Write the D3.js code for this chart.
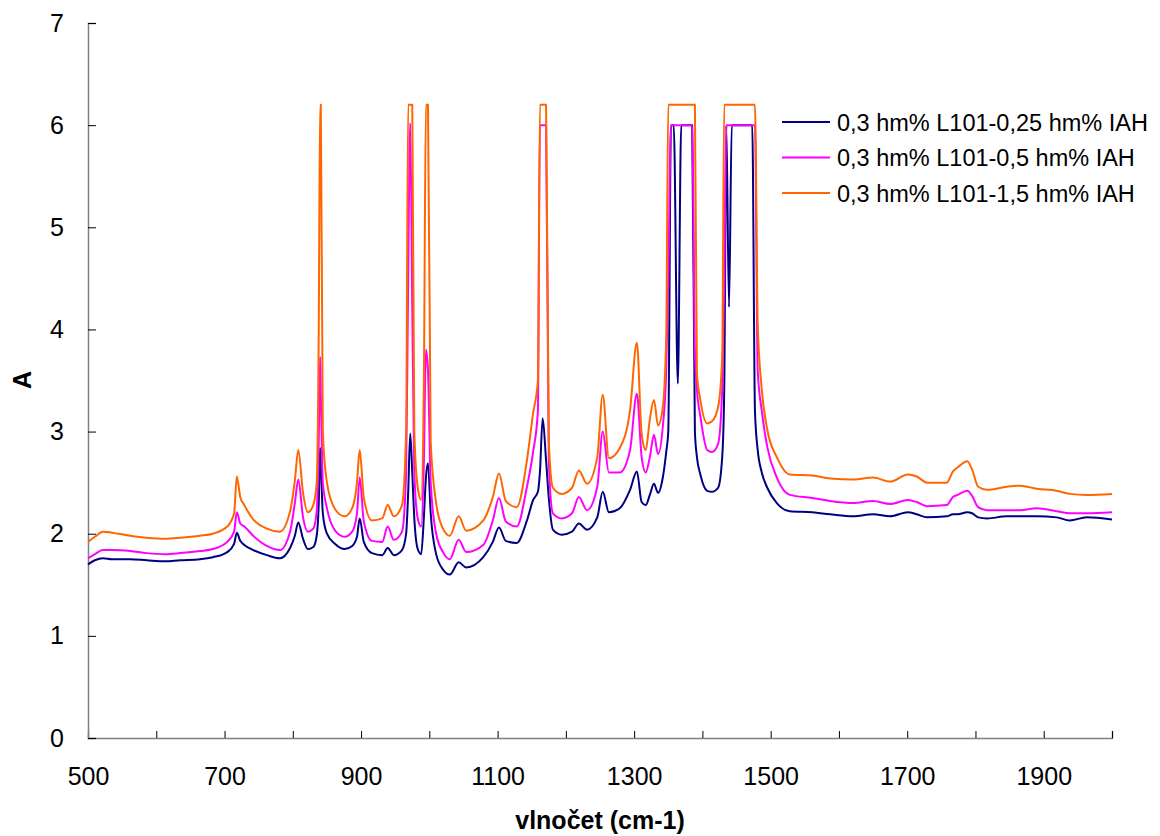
<!DOCTYPE html>
<html>
<head>
<meta charset="utf-8">
<script src="https://cdn.jsdelivr.net/npm/d3@7"></script>
<style>
  body { margin: 0; background: #fff; }
  svg { font-family: Arial, "Liberation Sans", sans-serif; }
</style>
</head>
<body>
<div id="chart"></div>
<script>
// wavenumber grid (cm-1), shared by the three spectra
var wavenumbers = [500, 510, 522, 535, 562, 586, 613, 635, 664, 683, 704, 714, 718, 723, 729, 742, 762, 781,
  796, 803, 808, 815, 822, 830, 835, 838, 840, 841, 844, 850, 862, 876, 887, 894, 898, 904, 916, 931, 939,
  948, 960, 966, 969, 972, 975, 978, 983, 988, 992, 995, 998, 1002, 1010, 1020, 1030, 1043, 1054, 1079,
  1093, 1102, 1112, 1128, 1143, 1152, 1159, 1162, 1166, 1171, 1175, 1181, 1194, 1209, 1219, 1231, 1246,
  1254, 1263, 1279, 1294, 1304, 1311, 1317, 1323, 1329, 1335, 1342, 1347, 1350, 1354, 1358, 1364, 1369,
  1385, 1389, 1392, 1397, 1407, 1414, 1423, 1429, 1432, 1435, 1439, 1443, 1473, 1477, 1481, 1487, 1495,
  1509, 1528, 1561, 1587, 1621, 1650, 1675, 1701, 1714, 1729, 1758, 1767, 1774, 1788, 1795, 1804, 1817,
  1846, 1865, 1890, 1919, 1938, 1963, 2000];

var iah025 = [1.70, 1.74, 1.76, 1.75, 1.75, 1.74, 1.73, 1.74, 1.75, 1.77, 1.82, 1.90, 2.01, 1.93, 1.89, 1.84, 1.79, 1.76,
  1.86, 1.98, 2.11, 1.95, 1.85, 1.87, 1.98, 2.30, 2.84, 2.70, 2.20, 2.00, 1.90, 1.85, 1.88, 1.97, 2.15, 1.92, 1.81, 1.79, 1.86,
  1.79, 1.84, 2.00, 2.40, 2.98, 2.60, 2.15, 1.85, 1.80, 2.16, 2.55, 2.69, 2.20, 1.80, 1.65, 1.60, 1.72, 1.67, 1.77,
  1.92, 2.06, 1.93, 1.91, 2.13, 2.33, 2.41, 2.60, 3.13, 2.72, 2.35, 2.04, 1.99, 2.02, 2.10, 2.04, 2.16,
  2.41, 2.21, 2.25, 2.43, 2.61, 2.31, 2.28, 2.38, 2.49, 2.40, 2.55, 2.80, 3.00, 6.00, 6.00, 3.47, 6.00,
  6.00, 3.00, 2.75, 2.58, 2.42, 2.41, 2.45, 2.75, 3.41, 6.00, 4.22, 6.00, 6.00, 3.20, 2.82, 2.60, 2.45,
  2.30, 2.22, 2.21, 2.19, 2.17, 2.19, 2.17, 2.21, 2.19, 2.16, 2.17, 2.19, 2.19, 2.21, 2.20, 2.16, 2.15,
  2.17, 2.17, 2.17, 2.16, 2.13, 2.16, 2.14];

var iah05 = [1.76, 1.80, 1.84, 1.84, 1.83, 1.81, 1.80, 1.81, 1.83, 1.85, 1.92, 2.02, 2.21, 2.10, 2.07, 1.98, 1.88, 1.84,
  2.02, 2.30, 2.53, 2.16, 2.02, 2.05, 2.22, 2.90, 3.73, 3.40, 2.50, 2.25, 2.03, 1.97, 2.02, 2.20, 2.55, 2.12, 1.93, 1.92, 2.07,
  1.94, 2.02, 2.60, 4.50, 6.02, 4.20, 2.60, 2.15, 2.07, 2.70, 3.80, 3.60, 2.50, 2.00, 1.82, 1.75, 1.94, 1.82, 1.89,
  2.13, 2.35, 2.12, 2.07, 2.46, 2.80, 3.20, 6.00, 6.00, 6.00, 2.70, 2.20, 2.15, 2.20, 2.36, 2.23, 2.46,
  3.00, 2.60, 2.60, 2.82, 3.37, 2.75, 2.60, 2.75, 2.97, 2.78, 3.05, 3.60, 4.50, 6.00, 6.00, 6.00, 6.00,
  6.00, 3.80, 3.41, 3.15, 2.82, 2.80, 2.88, 3.41, 4.50, 6.00, 6.00, 6.00, 6.00, 6.00, 3.60, 3.20, 2.85,
  2.55, 2.38, 2.35, 2.32, 2.30, 2.32, 2.29, 2.33, 2.31, 2.27, 2.28, 2.36, 2.38, 2.42, 2.37, 2.26, 2.23,
  2.23, 2.23, 2.25, 2.22, 2.20, 2.20, 2.21];

var iah15 = [1.92, 1.97, 2.02, 2.01, 1.98, 1.96, 1.95, 1.96, 1.98, 2.00, 2.07, 2.20, 2.56, 2.36, 2.28, 2.14, 2.05, 2.02,
  2.22, 2.52, 2.82, 2.40, 2.21, 2.28, 2.50, 4.00, 6.20, 6.20, 3.00, 2.50, 2.24, 2.17, 2.25, 2.50, 2.82, 2.35, 2.13, 2.15, 2.28,
  2.17, 2.28, 3.00, 6.20, 6.20, 6.20, 3.00, 2.45, 2.33, 3.50, 6.20, 6.20, 2.90, 2.30, 2.05, 1.98, 2.17, 2.03, 2.13,
  2.36, 2.59, 2.32, 2.26, 2.72, 3.18, 3.50, 6.20, 6.20, 6.20, 2.90, 2.45, 2.39, 2.45, 2.62, 2.49, 2.75,
  3.36, 2.74, 2.84, 3.21, 3.87, 2.98, 2.82, 3.12, 3.31, 3.06, 3.24, 3.93, 6.20, 6.20, 6.20, 6.20, 6.20,
  6.20, 6.20, 3.57, 3.31, 3.08, 3.10, 3.24, 3.73, 6.20, 6.20, 6.20, 6.20, 6.20, 6.20, 4.06, 3.41, 3.02,
  2.75, 2.58, 2.57, 2.54, 2.53, 2.55, 2.51, 2.58, 2.56, 2.50, 2.50, 2.61, 2.65, 2.71, 2.63, 2.46, 2.43,
  2.46, 2.47, 2.44, 2.42, 2.39, 2.38, 2.39];

var seriesNames = ["0,3 hm% L101-0,25 hm% IAH", "0,3 hm% L101-0,5 hm% IAH", "0,3 hm% L101-1,5 hm% IAH"];
var seriesColors = ["#000080", "#FF00FF", "#FF6600"];
var yTicks = [0, 1, 2, 3, 4, 5, 6, 7];
var xTicks = d3.range(500, 2001, 100);
var xLabelled = [500, 700, 900, 1100, 1300, 1500, 1700, 1900];

var width = 1160, height = 836;
var margin = {top: 23, right: 48, bottom: 98, left: 88};

var svg = d3.select("#chart").append("svg")
    .attr("width", width)
    .attr("height", height);

var x = d3.scaleLinear().domain([500, 2000]).range([margin.left, width - margin.right]);
var y = d3.scaleLinear().domain([0, 7]).range([height - margin.bottom, margin.top]);

// axes: ticks point inward like the original
var xAxis = d3.axisBottom(x)
    .tickValues(xTicks)
    .tickSize(-7)
    .tickPadding(29)
    .tickFormat(function(d) { return xLabelled.indexOf(d) >= 0 ? d : ""; });
var yAxis = d3.axisLeft(y)
    .tickValues(yTicks)
    .tickSize(-8)
    .tickPadding(24)
    .tickFormat(d3.format("d"));

var gx = svg.append("g")
    .attr("transform", "translate(0," + y(0) + ")")
    .call(xAxis);
var gy = svg.append("g")
    .attr("transform", "translate(" + x(500) + ",0)")
    .call(yAxis);

[gx, gy].forEach(function(g) {
  g.select(".domain").attr("stroke", "#808080").attr("stroke-width", 1.5);
  g.selectAll(".tick line").attr("stroke", "#000").attr("stroke-width", 1);
  g.selectAll(".tick text").attr("fill", "#000").style("font-size", "25px")
    .style("font-family", "Arial, 'Liberation Sans', sans-serif");
});

// spectra
var line = d3.line()
    .curve(d3.curveMonotoneX)
    .x(function(d) { return x(d[0]); })
    .y(function(d) { return y(d[1]); });

[iah025, iah05, iah15].forEach(function(vals, i) {
  svg.append("path")
    .datum(wavenumbers.map(function(w, j) { return [w, vals[j]]; }))
    .attr("fill", "none")
    .attr("stroke", seriesColors[i])
    .attr("stroke-width", 2)
    .attr("stroke-linejoin", "round")
    .attr("d", line);
});

// axis titles
svg.append("text")
    .attr("x", (x(500) + x(2000)) / 2)
    .attr("y", 829)
    .attr("text-anchor", "middle")
    .style("font-size", "25px")
    .style("font-weight", "bold")
    .text("vlnočet (cm-1)");

svg.append("text")
    .attr("transform", "translate(31,380) rotate(-90)")
    .attr("text-anchor", "middle")
    .style("font-size", "25px")
    .style("font-weight", "bold")
    .text("A");

// legend
var legend = svg.append("g").attr("transform", "translate(782,122)");
seriesNames.forEach(function(name, i) {
  var row = legend.append("g").attr("transform", "translate(0," + (i * 35.5) + ")");
  row.append("line")
    .attr("x1", 0).attr("x2", 48)
    .attr("stroke", seriesColors[i]).attr("stroke-width", 2);
  row.append("text")
    .attr("x", 55).attr("y", 8.5)
    .style("font-size", "23.5px")
    .text(name);
});
</script>
</body>
</html>
